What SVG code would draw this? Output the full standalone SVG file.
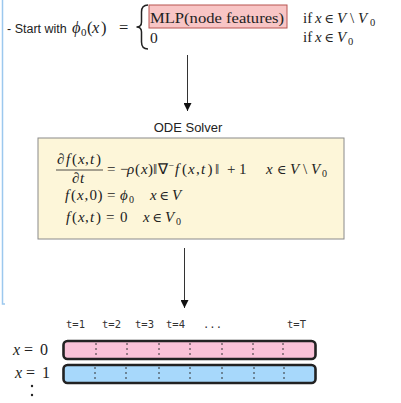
<svg xmlns="http://www.w3.org/2000/svg" width="401" height="403" viewBox="0 0 401 403">
<defs>
<style>
.sans{font-family:"Liberation Sans",Arial,sans-serif;fill:#222}
.m{font-family:"Liberation Serif","Times New Roman",serif;fill:#222}
.i{font-style:italic}
.el{font-family:"DejaVu Serif",serif;font-size:13px}
.mono{font-family:"DejaVu Sans Mono","Liberation Mono",monospace;font-size:10.5px;fill:#333}
.conn{stroke:#333;stroke-width:1;fill:none}
.div{stroke:#333;stroke-width:1;stroke-dasharray:2 3}
.bar{stroke:#222;stroke-width:2.6}
</style>
<marker id="ah" viewBox="0 0 10 10" refX="10" refY="5" markerWidth="8" markerHeight="8" markerUnits="userSpaceOnUse" orient="auto">
<path d="M0,0 L10,5 L0,10 z" fill="#111"/>
</marker>
</defs>
<rect width="401" height="403" fill="#fff"/>
<path d="M2.5,0 V304 H5" stroke="#9cc8ee" stroke-width="1.5" fill="none"/>

<g id="init">
<text class="sans" x="7" y="33" font-size="12.5">- Start with</text>
<text class="m" font-size="16.5" y="33"><tspan x="72" class="i">ϕ</tspan><tspan x="81" font-size="11" dy="3">0</tspan><tspan x="87" dy="-3">(</tspan><tspan x="92" class="i">x</tspan><tspan x="101">)</tspan><tspan x="119">=</tspan></text>
<path d="M148,5 C143,5 141.5,8 141.5,12 L141.5,22 C141.5,25 140,27 136.5,27 C140,27 141.5,29 141.5,32 L141.5,42 C141.5,46 143,49 148,49" stroke="#222" stroke-width="1.5" fill="none"/>
<rect x="149" y="5" width="138" height="23" fill="#f8c5c5" stroke="#b85450" stroke-width="1"/>
<text class="m" x="150" y="23" font-size="15.5" textLength="134" lengthAdjust="spacingAndGlyphs">MLP(node features)</text>
<text class="m" x="150" y="43" font-size="15.5">0</text>
<text class="m" font-size="15" y="23"><tspan x="303">if</tspan><tspan x="315" class="i">x</tspan><tspan x="324.5" class="el">∈</tspan><tspan x="337" class="i">V</tspan><tspan x="350">\</tspan><tspan x="358" class="i">V</tspan><tspan x="370" font-size="10.5" dy="3">0</tspan></text>
<text class="m" font-size="15" y="42"><tspan x="303">if</tspan><tspan x="315" class="i">x</tspan><tspan x="324.5" class="el">∈</tspan><tspan x="337" class="i">V</tspan><tspan x="348" font-size="10.5" dy="3">0</tspan></text>
</g>

<g id="ode">
<text class="sans" x="188" y="132" font-size="13" text-anchor="middle">ODE Solver</text>
<rect x="38" y="138" width="306" height="101" fill="#fdf6d9" stroke="#8a8a8a" stroke-width="1"/>
<text class="m" font-size="15" y="164"><tspan x="57">∂</tspan><tspan x="66" class="i">f</tspan><tspan x="72">(</tspan><tspan x="78" class="i">x</tspan><tspan x="85">,</tspan><tspan x="90" class="i">t</tspan><tspan x="96">)</tspan></text>
<line x1="56" y1="170" x2="103" y2="170" stroke="#222" stroke-width="0.8"/>
<text class="m" font-size="15" y="183"><tspan x="72">∂</tspan><tspan x="80" class="i">t</tspan></text>
<text class="m" font-size="15" y="174"><tspan x="107">=</tspan><tspan x="120">−</tspan><tspan x="127" class="i">ρ</tspan><tspan x="135">(</tspan><tspan x="141" class="i">x</tspan><tspan x="148">)</tspan><tspan x="153">‖</tspan><tspan x="158">∇</tspan><tspan x="168.5" font-size="10" dy="-5">−</tspan><tspan x="175" class="i" dy="5">f</tspan><tspan x="182">(</tspan><tspan x="188" class="i">x</tspan><tspan x="196">,</tspan><tspan x="201" class="i">t</tspan><tspan x="207.5">)</tspan><tspan x="215">‖</tspan><tspan x="227">+</tspan><tspan x="239">1</tspan><tspan x="266" class="i">x</tspan><tspan x="277" class="el">∈</tspan><tspan x="290" class="i">V</tspan><tspan x="303">\</tspan><tspan x="311" class="i">V</tspan><tspan x="322" font-size="10" dy="3">0</tspan></text>
<text class="m" font-size="15" y="200"><tspan x="65" class="i">f</tspan><tspan x="71">(</tspan><tspan x="77" class="i">x</tspan><tspan x="84.5">,</tspan><tspan x="89.5">0</tspan><tspan x="97.5">)</tspan><tspan x="107">=</tspan><tspan x="120" class="i">ϕ</tspan><tspan x="129" font-size="10" dy="3">0</tspan><tspan x="150" dy="-3" class="i">x</tspan><tspan x="159.5" class="el">∈</tspan><tspan x="172" class="i">V</tspan></text>
<text class="m" font-size="15" y="222"><tspan x="66" class="i">f</tspan><tspan x="72">(</tspan><tspan x="78" class="i">x</tspan><tspan x="85">,</tspan><tspan x="90" class="i">t</tspan><tspan x="96">)</tspan><tspan x="106">=</tspan><tspan x="120">0</tspan><tspan x="143" class="i">x</tspan><tspan x="152.5" class="el">∈</tspan><tspan x="165" class="i">V</tspan><tspan x="176" font-size="10" dy="3">0</tspan></text>
</g>

<g id="connectors">
<line class="conn" x1="187.5" y1="55" x2="187.5" y2="111" marker-end="url(#ah)"/>
<line class="conn" x1="184.5" y1="248" x2="184.5" y2="308" marker-end="url(#ah)"/>
</g>

<g id="timeline">
<text class="mono" y="328"><tspan x="66">t=1</tspan><tspan x="102">t=2</tspan><tspan x="135">t=3</tspan><tspan x="166">t=4</tspan><tspan x="203">...</tspan><tspan x="287">t=T</tspan></text>
<rect class="bar" x="63.5" y="341" width="252" height="18" rx="4" fill="#f9c1d7"/>
<rect class="bar" x="63.5" y="365" width="252" height="18" rx="4" fill="#a7d8fb"/>
<g class="div">
<line x1="96" y1="343" x2="96" y2="357"/><line x1="127" y1="343" x2="127" y2="357"/><line x1="159" y1="343" x2="159" y2="357"/><line x1="190" y1="343" x2="190" y2="357"/><line x1="222" y1="343" x2="222" y2="357"/><line x1="253" y1="343" x2="253" y2="357"/><line x1="283" y1="343" x2="283" y2="357"/>
<line x1="95" y1="367" x2="95" y2="381"/><line x1="126" y1="367" x2="126" y2="381"/><line x1="159" y1="367" x2="159" y2="381"/><line x1="190" y1="367" x2="190" y2="381"/><line x1="222" y1="367" x2="222" y2="381"/><line x1="254" y1="367" x2="254" y2="381"/><line x1="284" y1="367" x2="284" y2="381"/>
</g>
<text class="m" font-size="16" y="355"><tspan x="13" class="i">x</tspan><tspan x="24">=</tspan><tspan x="40">0</tspan></text>
<text class="m" font-size="16" y="378"><tspan x="15" class="i">x</tspan><tspan x="26">=</tspan><tspan x="42">1</tspan></text>
<circle cx="32" cy="386" r="1.2" fill="#222"/>
<circle cx="32" cy="395" r="1.2" fill="#222"/>
</g>
</svg>
